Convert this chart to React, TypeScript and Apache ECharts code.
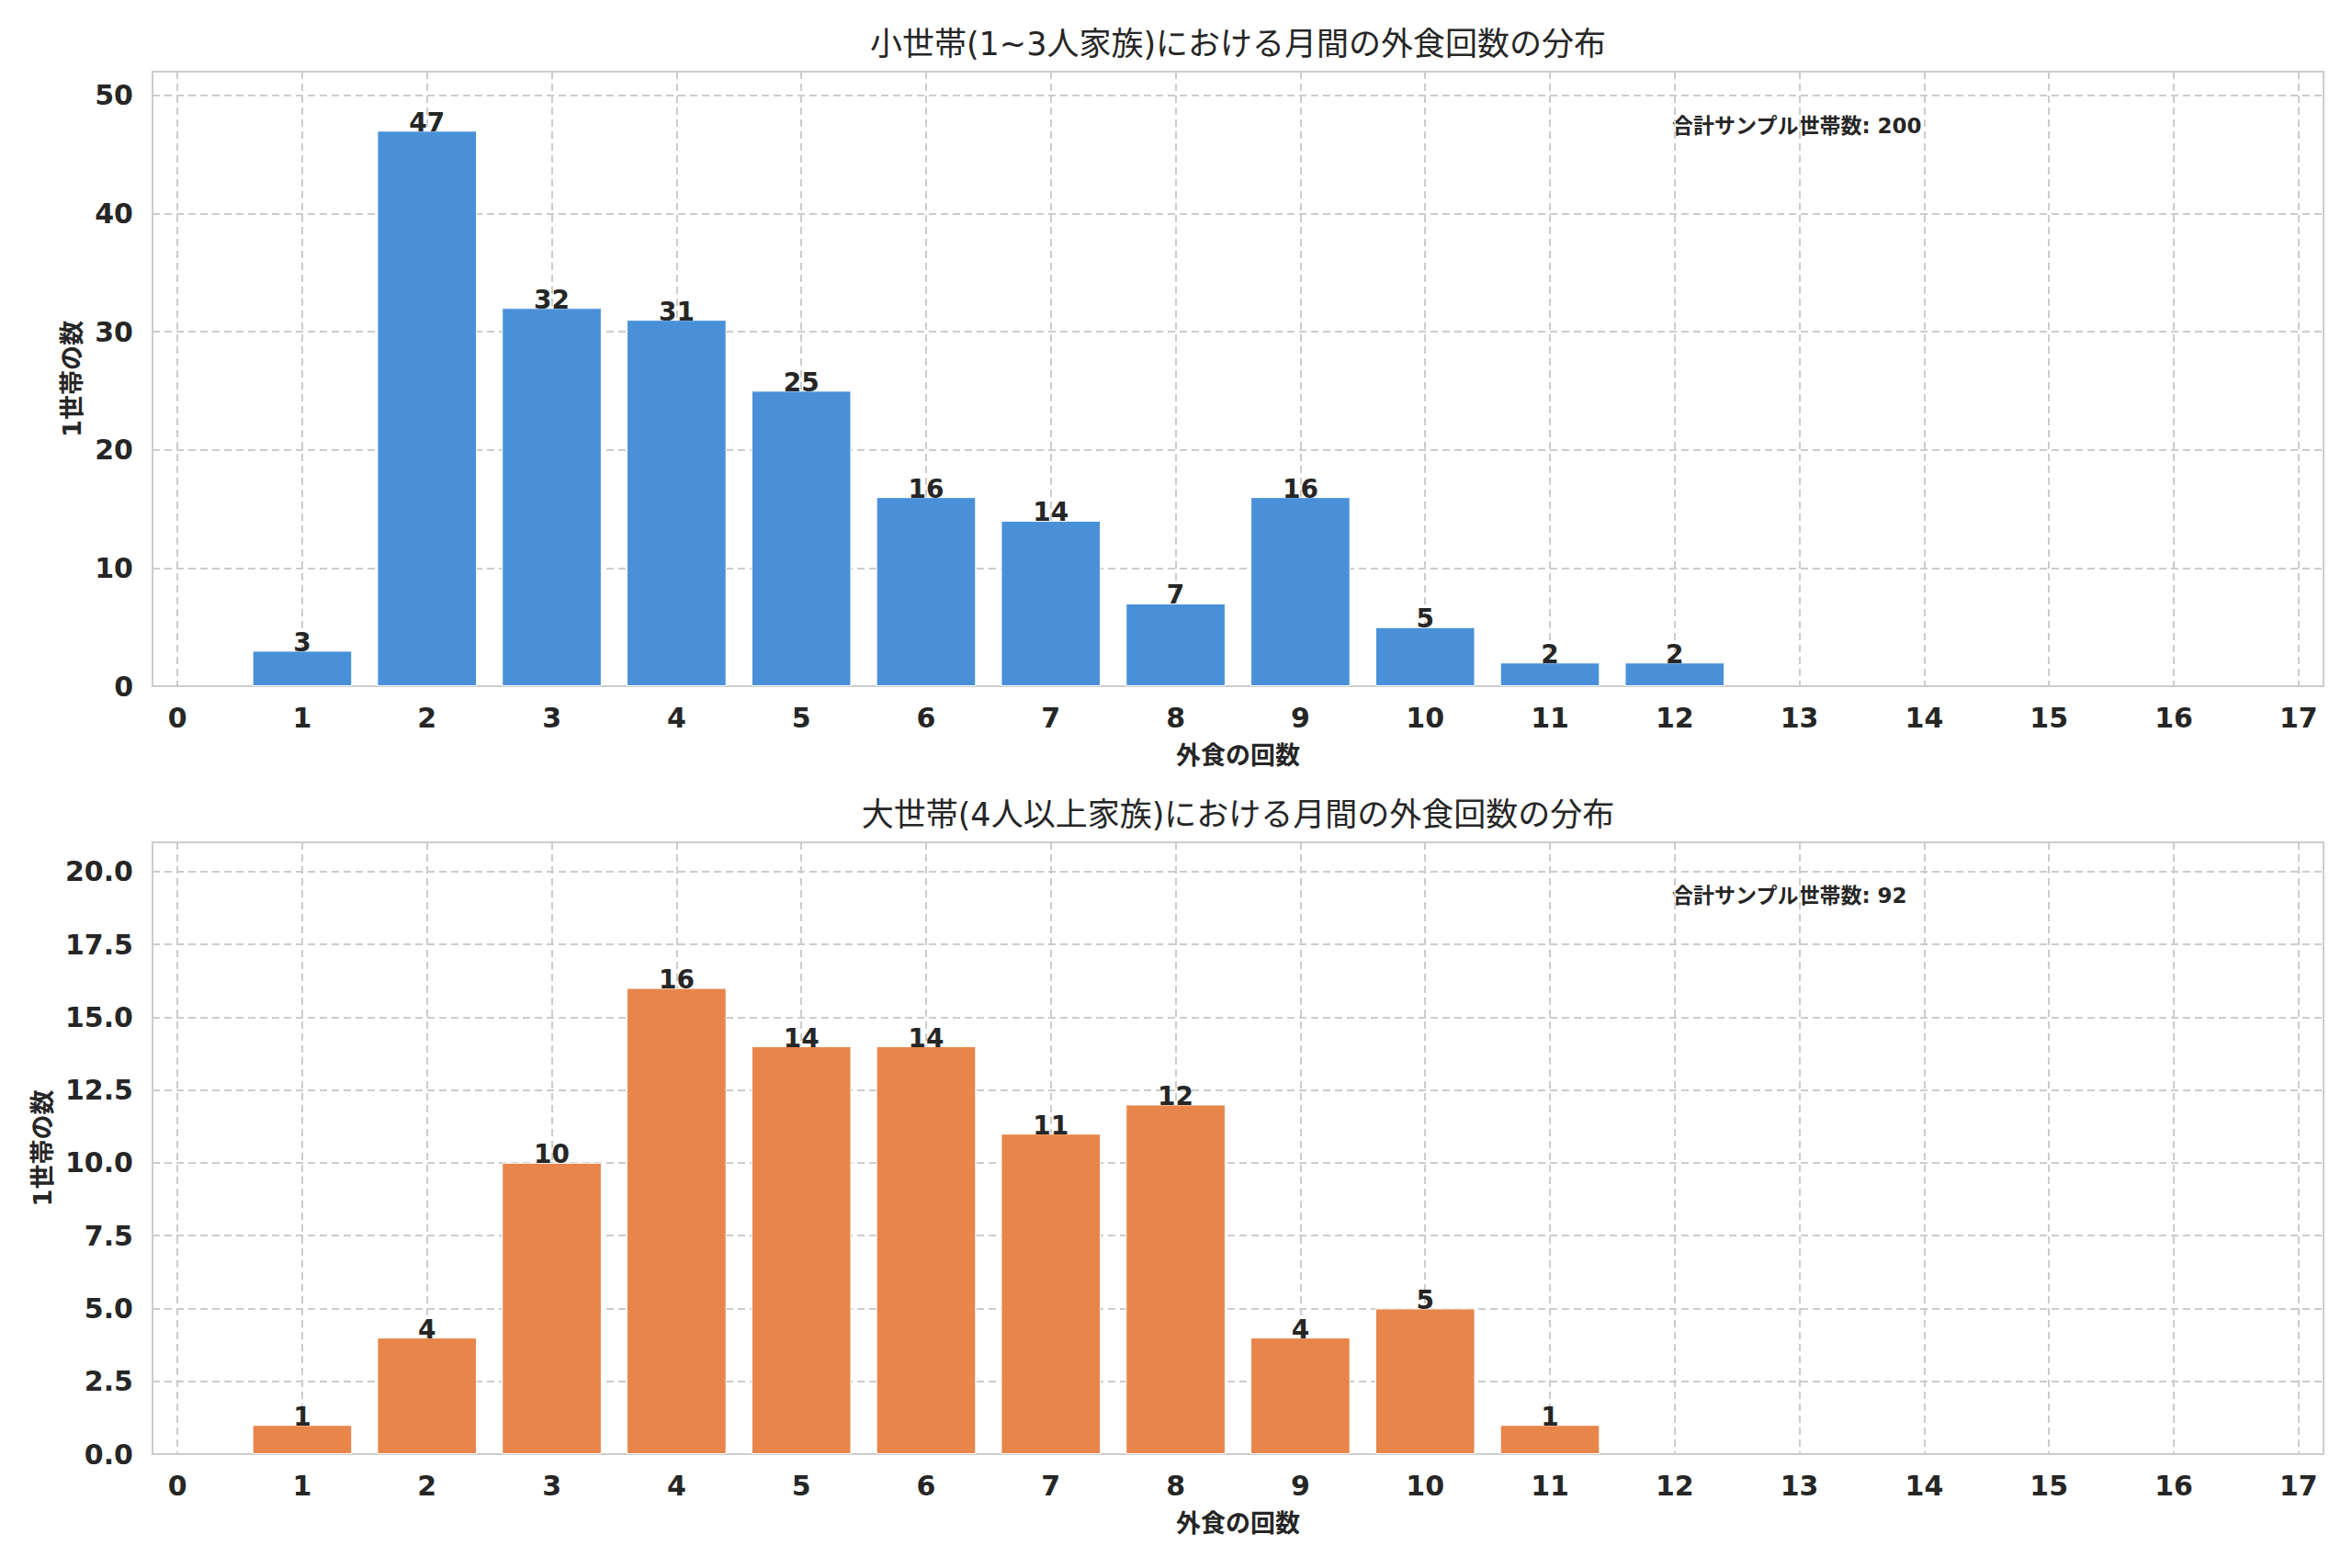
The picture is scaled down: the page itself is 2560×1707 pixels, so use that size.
import React, { useEffect, useRef } from "react";
import * as echarts from "echarts";

// ---- data ----
const xTicks = [0, 1, 2, 3, 4, 5, 6, 7, 8, 9, 10, 11, 12, 13, 14, 15, 16, 17];

const topCounts = [1, 2, 3, 4, 5, 6, 7, 8, 9, 10, 11, 12];
const topFreq = [3, 47, 32, 31, 25, 16, 14, 7, 16, 5, 2, 2];
const topYTicks = [0, 10, 20, 30, 40, 50];

const bottomCounts = [1, 2, 3, 4, 5, 6, 7, 8, 9, 10, 11];
const bottomFreq = [1, 4, 10, 16, 14, 14, 11, 12, 4, 5, 1];
const bottomYTicks = [0, 2.5, 5, 7.5, 10, 12.5, 15, 17.5, 20];

const topTitle = "小世帯(1~3人家族)における月間の外食回数の分布";
const bottomTitle = "大世帯(4人以上家族)における月間の外食回数の分布";
const xName = "外食の回数";
const yName = "1世帯の数";
const totalLabel = "合計サンプル世帯数";

const TOP_COLOR = "#4A90D9";
const BOTTOM_COLOR = "#E8854A";

const W = 2560;
const H = 1707;
const GRID_LEFT = 166;
const GRID_RIGHT = 31;
const TOP_GRID = { top: 78, height: 669 };
const BOTTOM_GRID = { top: 917, height: 666 };

const LATIN = "'DejaVu Sans', 'Noto Sans CJK JP', sans-serif";
const TEXT = "#262626";

function sum(a: number[]) {
  return a.reduce((s, v) => s + v, 0);
}

export default function App() {
  const ref = useRef<HTMLDivElement>(null);

  useEffect(() => {
    if (!ref.current) return;
    const chart = echarts.init(ref.current, undefined, { renderer: "svg" });

    const plotW = W - GRID_LEFT - GRID_RIGHT;
    const unit = plotW / 17.4;
    const barW = unit * 0.8;

    const makeX = (gridIndex: number, nameY: number) => ({
      type: "value" as const,
      gridIndex,
      min: -0.2,
      max: 17.2,
      name: xName,
      nameLocation: "middle" as const,
      nameGap: nameY,
      nameTextStyle: { fontFamily: LATIN, fontSize: 27, fontWeight: "bold", color: TEXT },
      axisLine: { show: false },
      axisTick: { show: false, customValues: xTicks },
      axisLabel: {
        customValues: xTicks,
        fontFamily: LATIN,
        fontSize: 30,
        fontWeight: "bold",
        color: TEXT,
        margin: 19,
      },
      splitLine: {
        show: true,
        lineStyle: { color: "#cccccc", width: 2, type: [8, 5] },
      },
    });

    const makeY = (
      gridIndex: number,
      max: number,
      ticks: number[],
      fmt: (v: number) => string,
      gap: number
    ) => ({
      type: "value" as const,
      gridIndex,
      min: 0,
      max,
      name: yName,
      nameLocation: "middle" as const,
      nameGap: gap,
      nameTextStyle: { fontFamily: LATIN, fontSize: 27, fontWeight: "bold", color: TEXT },
      axisLine: { show: false },
      axisTick: { show: false, customValues: ticks },
      axisLabel: {
        customValues: ticks,
        formatter: (v: number) => fmt(v),
        fontFamily: LATIN,
        fontSize: 30,
        fontWeight: "bold",
        color: TEXT,
        margin: 21,
      },
      splitLine: {
        show: true,
        lineStyle: { color: "#cccccc", width: 2, type: [8, 5] },
      },
    });

    const barLabel = {
      show: true,
      position: "top" as const,
      distance: -5,
      fontFamily: LATIN,
      fontSize: 28,
      fontWeight: "bold",
      color: TEXT,
    };

    const option: any = {
      animation: false,
      backgroundColor: "#ffffff",
      grid: [
        {
          left: GRID_LEFT,
          right: GRID_RIGHT,
          top: TOP_GRID.top,
          height: TOP_GRID.height,
          show: true,
          borderColor: "#cccccc",
          borderWidth: 2,
          backgroundColor: "transparent",
        },
        {
          left: GRID_LEFT,
          right: GRID_RIGHT,
          top: BOTTOM_GRID.top,
          height: BOTTOM_GRID.height,
          show: true,
          borderColor: "#cccccc",
          borderWidth: 2,
          backgroundColor: "transparent",
        },
      ],
      xAxis: [makeX(0, 62), makeX(1, 62)],
      yAxis: [
        makeY(0, 52, topYTicks, (v) => String(v), 73),
        makeY(1, 21, bottomYTicks, (v) => v.toFixed(1), 105),
      ],
      series: [
        {
          type: "bar",
          xAxisIndex: 0,
          yAxisIndex: 0,
          barWidth: barW,
          data: topCounts.map((c, i) => [c, topFreq[i]]),
          itemStyle: { color: TOP_COLOR, borderColor: "#ffffff", borderWidth: 1 },
          label: { ...barLabel, formatter: (p: any) => String(p.value[1]) },
        },
        {
          type: "bar",
          xAxisIndex: 1,
          yAxisIndex: 1,
          barWidth: barW,
          data: bottomCounts.map((c, i) => [c, bottomFreq[i]]),
          itemStyle: { color: BOTTOM_COLOR, borderColor: "#ffffff", borderWidth: 1 },
          label: { ...barLabel, formatter: (p: any) => String(p.value[1]) },
        },
      ],
      graphic: [
        {
          type: "text",
          x: GRID_LEFT + plotW / 2,
          y: 48,
          style: {
            text: topTitle,
            fontFamily: LATIN,
            fontSize: 35,
            fill: TEXT,
            align: "center",
            verticalAlign: "middle",
          },
        },
        {
          type: "text",
          x: GRID_LEFT + plotW / 2,
          y: 887,
          style: {
            text: bottomTitle,
            fontFamily: LATIN,
            fontSize: 35,
            fill: TEXT,
            align: "center",
            verticalAlign: "middle",
          },
        },
        {
          type: "text",
          x: GRID_LEFT + plotW * 0.7,
          y: TOP_GRID.top + TOP_GRID.height * 0.088,
          style: {
            text: `${totalLabel}: ${sum(topFreq)}`,
            fontFamily: LATIN,
            fontSize: 23,
            fontWeight: "bold",
            fill: TEXT,
            align: "left",
            verticalAlign: "middle",
          },
        },
        {
          type: "text",
          x: GRID_LEFT + plotW * 0.7,
          y: BOTTOM_GRID.top + BOTTOM_GRID.height * 0.087,
          style: {
            text: `${totalLabel}: ${sum(bottomFreq)}`,
            fontFamily: LATIN,
            fontSize: 23,
            fontWeight: "bold",
            fill: TEXT,
            align: "left",
            verticalAlign: "middle",
          },
        },
      ],
    };

    chart.setOption(option);
    return () => chart.dispose();
  }, []);

  return (
    <div
      ref={ref}
      style={{ position: "absolute", left: 0, top: 0, width: W, height: H, background: "#fff" }}
    />
  );
}
